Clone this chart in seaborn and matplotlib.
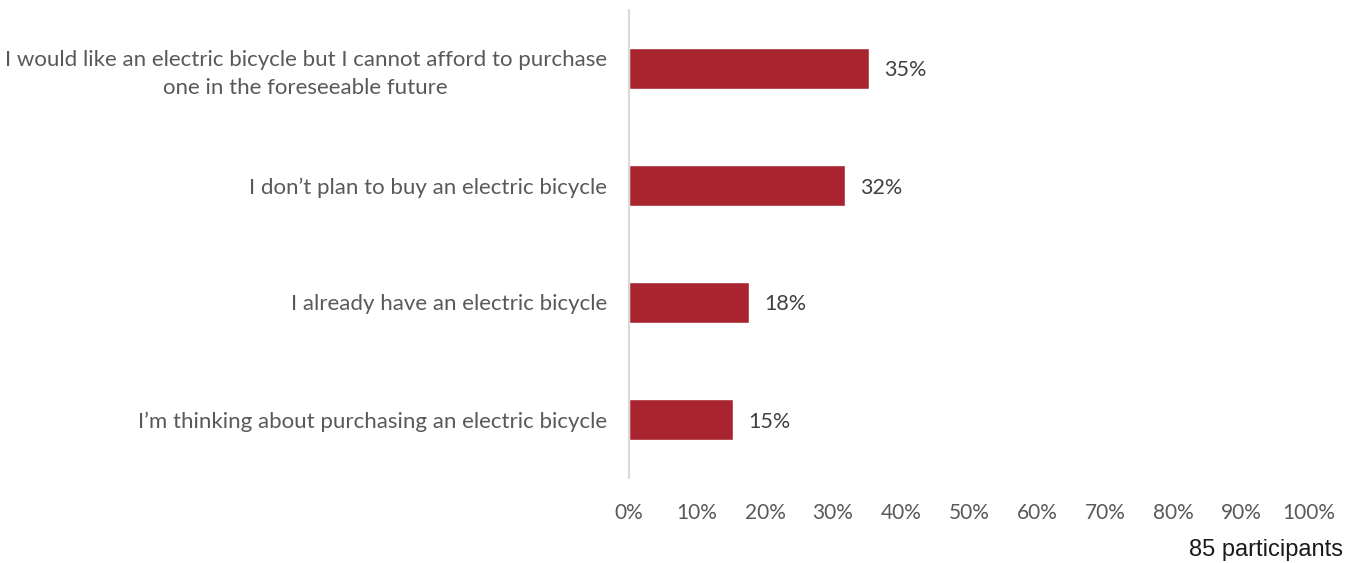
import matplotlib
matplotlib.use("Agg")
import matplotlib.pyplot as plt
import seaborn as sns
import pandas as pd
from matplotlib.ticker import MultipleLocator, PercentFormatter

# Survey responses (85 participants)
responses = [
    "I would like an electric bicycle but I cannot afford to purchase\none in the foreseeable future",
    "I don\u2019t plan to buy an electric bicycle",
    "I already have an electric bicycle",
    "I\u2019m thinking about purchasing an electric bicycle",
]
counts = [30, 27, 15, 13]
total_participants = 85
shares = [100 * c / total_participants for c in counts]

df = pd.DataFrame({"response": responses, "share": shares})

sns.set_theme(style="white")
plt.rcParams["font.family"] = ["Lato", "DejaVu Sans"]

fig = plt.figure(figsize=(13.59, 5.63), dpi=100)
ax = fig.add_axes([629 / 1359, 1 - 478 / 563, 680 / 1359, 468 / 563])

sns.barplot(data=df, x="share", y="response", orient="h", color="#A82530",
            width=0.35, saturation=1, ax=ax)

ax.set_xlim(0, 100)
ax.set_ylim(3.5, -0.5)
ax.xaxis.set_major_locator(MultipleLocator(10))
ax.xaxis.set_major_formatter(PercentFormatter(decimals=0))
ax.set_xlabel("")
ax.set_ylabel("")

for side in ["top", "right", "bottom"]:
    ax.spines[side].set_visible(False)
ax.spines["left"].set_color("#D9D9D9")
ax.spines["left"].set_linewidth(1.5)

ax.tick_params(axis="x", length=0, pad=18, labelsize=15, labelcolor="#595959")
ax.tick_params(axis="y", length=0, pad=16, labelsize=16, labelcolor="#595959")
for lbl in ax.get_yticklabels():
    lbl.set_horizontalalignment("right")
    lbl.set_multialignment("center")
    lbl.set_linespacing(1.45)

for container in ax.containers:
    labels = ax.bar_label(container,
                          labels=[f"{v:.0f}%" for v in container.datavalues],
                          padding=11, fontsize=15.5, color="#404040")
    for t in labels:
        t.set_verticalalignment("center_baseline")

fig.text(1343 / 1359, 1 - 550 / 563, f"{total_participants} participants",
         ha="right", va="center", fontsize=17, color="#1a1a1a",
         family=["Liberation Sans", "DejaVu Sans"])

fig.savefig("out.png", dpi=100)
